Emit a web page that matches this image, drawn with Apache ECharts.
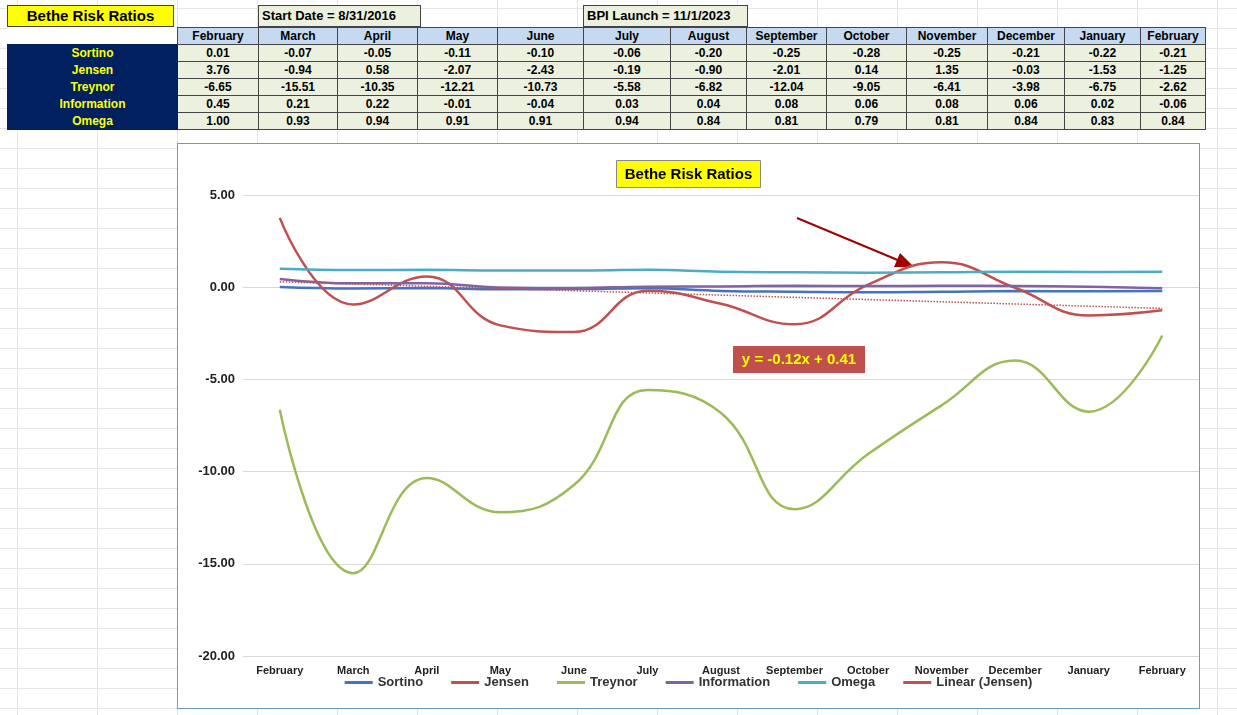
<!DOCTYPE html>
<html><head><meta charset="utf-8">
<script src="https://cdn.jsdelivr.net/npm/echarts@6/dist/echarts.min.js"></script>
<style>
body{margin:0;width:1237px;height:715px;position:relative;font-family:Arial,"Liberation Sans",sans-serif;
background-color:#fff;background-image:linear-gradient(#e4e4e4 1px,transparent 1px),linear-gradient(90deg,#e4e4e4 1px,transparent 1px);background-size:80px 20px;background-position:17px 8px;overflow:hidden}
table{position:absolute;left:7px;top:27px;border-collapse:collapse;font-size:12px;font-weight:bold}
td{border:1px solid #444;height:16px;padding:0;text-align:center;line-height:16px}
td.l{background:#002060;color:#ffff00;width:169px;border-color:#002060}
td.h{background:#c5d9f1}
td.v{background:#ebf1de}
.box{position:absolute;top:5px;height:20px;border:1px solid #444;font-size:13px;font-weight:bold;line-height:20px}
#c{position:absolute;left:177px;top:143px;width:1021px;height:564px;border:1px solid #6a9ac0;background:#fff}
</style></head><body>
<div class="box" style="left:7px;width:165px;background:#ffff00;font-size:15px;text-align:center">Bethe Risk Ratios</div>
<div class="box" style="left:258px;width:158px;background:#ebf1de;padding-left:3px">Start Date = 8/31/2016</div>
<div class="box" style="left:583px;width:160px;background:#ebf1de;padding-left:3px">BPI Launch = 11/1/2023</div>
<table id="t"></table>
<div id="c"></div>
<script>
const categories=["February","March","April","May","June","July","August","September","October","November","December","January","February"];
const sortino=[0.01,-0.07,-0.05,-0.11,-0.10,-0.06,-0.20,-0.25,-0.28,-0.25,-0.21,-0.22,-0.21];
const jensen=[3.76,-0.94,0.58,-2.07,-2.43,-0.19,-0.90,-2.01,0.14,1.35,-0.03,-1.53,-1.25];
const treynor=[-6.65,-15.51,-10.35,-12.21,-10.73,-5.58,-6.82,-12.04,-9.05,-6.41,-3.98,-6.75,-2.62];
const information=[0.45,0.21,0.22,-0.01,-0.04,0.03,0.04,0.08,0.06,0.08,0.06,0.02,-0.06];
const omega=[1.00,0.93,0.94,0.91,0.91,0.94,0.84,0.81,0.79,0.81,0.84,0.83,0.84];
const linearJensen=[0.29,0.17,0.05,-0.07,-0.19,-0.31,-0.43,-0.55,-0.67,-0.79,-0.91,-1.03,-1.15];
const colW=[81,79,80,80,86,87,76,80,80,81,77,76,65];
const rows=[["Sortino",sortino],["Jensen",jensen],["Treynor",treynor],["Information",information],["Omega",omega]];
let h='<tr><td class="l" style="background:#fff;border:none"></td>'+categories.map((c,i)=>`<td class="h" style="width:${colW[i]-1}px">${c}</td>`).join('')+'</tr>';
rows.forEach(r=>{h+=`<tr><td class="l">${r[0]}</td>`+r[1].map(v=>`<td class="v">${v.toFixed(2)}</td>`).join('')+'</tr>';});
document.getElementById('t').innerHTML=h;
const ch=echarts.init(document.getElementById('c'));
const ln=(n,d,c,w)=>({name:n,type:'line',data:d,smooth:0.45,symbol:'none',lineStyle:{color:c,width:w||2.5},itemStyle:{color:c}});
ch.setOption({
 animation:false,
 grid:{left:65,top:51,width:968,height:461},
 legend:{bottom:14,left:'center',itemWidth:28,itemHeight:3,itemGap:28,textStyle:{fontSize:13,fontWeight:'bold',color:'#333'},
  data:['Sortino','Jensen','Treynor','Information','Omega','Linear (Jensen)'].map(n=>({name:n,icon:'rect'}))},
 xAxis:{type:'category',data:categories,axisLine:{show:true,onZero:true,lineStyle:{color:'#d9d9d9'}},axisTick:{show:false},
  axisLabel:{fontSize:11,fontWeight:'bold',color:'#222',interval:0,margin:9}},
 yAxis:{type:'value',min:-20,max:5,interval:5,axisLabel:{formatter:v=>v.toFixed(2),fontSize:13,fontWeight:'bold',color:'#222'},
  splitLine:{lineStyle:{color:'#d9d9d9'}}},
 series:[ln('Sortino',sortino,'#4472c4'),ln('Jensen',jensen,'#c0504d'),ln('Treynor',treynor,'#9bbb59'),
  ln('Information',information,'#8064a2'),ln('Omega',omega,'#4bacc6'),
  {name:'Linear (Jensen)',type:'line',data:linearJensen,symbol:'none',lineStyle:{color:'#c0504d',width:1.5,type:'dotted'},itemStyle:{color:'#c0504d'}}],
 graphic:[
  {type:'group',left:'center',top:16,children:[
   {type:'rect',shape:{x:0,y:0,width:144,height:27},style:{fill:'#ffff00',stroke:'#888'}},
   {type:'text',style:{x:72,y:14,text:'Bethe Risk Ratios',fill:'#000',font:'bold 15px Arial',align:'center',verticalAlign:'middle'}}]},
  {type:'group',left:555,top:202,children:[
   {type:'rect',shape:{x:0,y:0,width:132,height:27},style:{fill:'#c0504d'}},
   {type:'text',style:{x:66,y:14,text:'y = -0.12x + 0.41',fill:'#ffff00',font:'bold 15px Arial',align:'center',verticalAlign:'middle'}}]},
  {type:'line',shape:{x1:619,y1:74,x2:722,y2:117},style:{stroke:'#a00000',lineWidth:2}},
  {type:'polygon',shape:{points:[[736,123],[716,123],[722,109]]},style:{fill:'#a00000'}}
 ]
});
</script></body></html>
